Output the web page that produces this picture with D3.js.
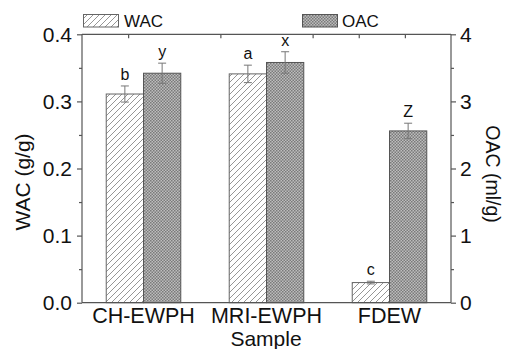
<!DOCTYPE html>
<html><head><meta charset="utf-8">
<script src="https://cdn.jsdelivr.net/npm/d3@7"></script>
<style>body{margin:0;background:#fff;} text{font-family:"Liberation Sans",Arial,sans-serif;fill:#111;}</style>
</head><body><svg id="c" width="505" height="349"></svg>
<script>
const categories = ["CH-EWPH", "MRI-EWPH", "FDEW"];
const wac = [0.311, 0.341, 0.030];
const wacErr = [0.012, 0.013, 0.002];
const wacLetters = ["b", "a", "c"];
const oac = [3.42, 3.58, 2.56];
const oacErr = [0.15, 0.16, 0.115];
const oacLetters = ["y", "x", "Z"];
const leftTicks = [0, 0.1, 0.2, 0.3, 0.4];
const rightTicks = [0, 1, 2, 3, 4];
const topTicks = [0.875, 1.625, 2.375, 2.75, 3.125];

const svg = d3.select("#c");
const L = 82, R = 451, T = 34.3, B = 302.7;
const x = d3.scaleLinear().domain([0.5, 3.5]).range([L, R]);
const yL = d3.scaleLinear().domain([0, 0.4]).range([B, T]);
const yR = d3.scaleLinear().domain([0, 4]).range([B, T]);
const bw = 0.303;

const defs = svg.append("defs");
const hatch = defs.append("pattern").attr("id", "hatch").attr("patternUnits", "userSpaceOnUse")
  .attr("width", 6).attr("height", 6);
hatch.append("rect").attr("width", 6).attr("height", 6).attr("fill", "#fff");
hatch.append("path").attr("d", "M-1,1 l2,-2 M0,6 l6,-6 M5,7 l2,-2").attr("stroke", "#8a8a8a").attr("stroke-width", 0.9);
const chk = defs.append("pattern").attr("id", "chk").attr("patternUnits", "userSpaceOnUse")
  .attr("width", 3).attr("height", 3);
chk.append("rect").attr("width", 3).attr("height", 3).attr("fill", "#bdbdbd");
chk.append("rect").attr("width", 1.5).attr("height", 1.5).attr("fill", "#7a7a7a");
chk.append("rect").attr("x", 1.5).attr("y", 1.5).attr("width", 1.5).attr("height", 1.5).attr("fill", "#7a7a7a");

// bars
const g = svg.append("g");
categories.forEach((c, i) => {
  g.append("rect").attr("x", x(i + 1 - bw)).attr("y", yL(wac[i]))
    .attr("width", x(i + 1) - x(i + 1 - bw)).attr("height", B - yL(wac[i]))
    .attr("fill", "url(#hatch)").attr("stroke", "#666").attr("stroke-width", 1);
  g.append("rect").attr("x", x(i + 1)).attr("y", yR(oac[i]))
    .attr("width", x(i + 1 + bw) - x(i + 1)).attr("height", B - yR(oac[i]))
    .attr("fill", "url(#chk)").attr("stroke", "#555").attr("stroke-width", 1);
});

// error bars and letters
function errBar(cx, yv, e, sc) {
  const y1 = sc(yv + e), y2 = sc(yv - e);
  g.append("line").attr("x1", cx).attr("x2", cx).attr("y1", y1).attr("y2", y2).attr("stroke", "#777").attr("stroke-width", 1);
  [y1, y2].forEach(yy => g.append("line").attr("x1", cx - 4).attr("x2", cx + 4).attr("y1", yy).attr("y2", yy).attr("stroke", "#777").attr("stroke-width", 1));
  return y1;
}
categories.forEach((c, i) => {
  const cw = x(i + 1 - bw / 2), co = x(i + 1 + bw / 2);
  const t1 = errBar(cw, wac[i], wacErr[i], yL);
  g.append("text").attr("x", cw).attr("y", t1 - 6).attr("text-anchor", "middle").attr("font-size", 16).text(wacLetters[i]);
  const t2 = errBar(co, oac[i], oacErr[i], yR);
  g.append("text").attr("x", co).attr("y", t2 - 6).attr("text-anchor", "middle").attr("font-size", 16).text(oacLetters[i]);
});

// axes frame
const ax = svg.append("g").attr("stroke", "#555").attr("stroke-width", 1.2);
ax.append("line").attr("x1", L).attr("x2", R).attr("y1", B).attr("y2", B);
ax.append("line").attr("x1", L).attr("x2", R).attr("y1", T).attr("y2", T);
ax.append("line").attr("x1", L).attr("x2", L).attr("y1", T).attr("y2", B);
ax.append("line").attr("x1", R).attr("x2", R).attr("y1", T).attr("y2", B);

// left axis
const la = svg.append("g").attr("transform", `translate(${L},0)`)
  .call(d3.axisLeft(yL).tickValues(leftTicks).tickFormat(d3.format(".1f")).tickSize(5).tickPadding(5));
la.append("g").call(d3.axisLeft(yL).tickValues([0.05, 0.15, 0.25, 0.35]).tickFormat("").tickSize(3));
// right axis
const ra = svg.append("g").attr("transform", `translate(${R},0)`)
  .call(d3.axisRight(yR).tickValues(rightTicks).tickFormat(d3.format("d")).tickSize(5).tickPadding(4));
ra.append("g").call(d3.axisRight(yR).tickValues([0.5, 1.5, 2.5, 3.5]).tickFormat("").tickSize(3));
// top minor ticks
const ta = svg.append("g").attr("transform", `translate(0,${T})`)
  .call(d3.axisBottom(x).tickValues(topTicks).tickFormat("").tickSize(4));
[la, ra, ta].forEach(a => {
  a.selectAll(".domain").remove();
  a.selectAll("line").attr("stroke", "#555").attr("stroke-width", 1.2);
  a.selectAll("text").attr("font-size", 21).attr("fill", "#111").style("font-family", "'Liberation Sans',Arial,sans-serif");
});

// category labels
svg.append("g").selectAll("text").data(categories).join("text")
  .attr("x", (d, i) => x(i + 1)).attr("y", 323).attr("text-anchor", "middle").attr("font-size", 21.5).text(d => d);
svg.append("text").attr("x", 266).attr("y", 346).attr("text-anchor", "middle").attr("font-size", 21).text("Sample");
svg.append("text").attr("transform", "translate(30,182) rotate(-90)").attr("text-anchor", "middle").attr("font-size", 21).text("WAC (g/g)");
svg.append("text").attr("transform", "translate(486,174) rotate(90)").attr("text-anchor", "middle").attr("font-size", 19.5).text("OAC (ml/g)");

// legend
const leg = svg.append("g");
leg.append("rect").attr("x", 83.5).attr("y", 14.5).attr("width", 35).attr("height", 12.5).attr("fill", "url(#hatch)").attr("stroke", "#666");
leg.append("text").attr("x", 124).attr("y", 27).attr("font-size", 17).text("WAC");
leg.append("rect").attr("x", 302.5).attr("y", 14.5).attr("width", 35).attr("height", 12.5).attr("fill", "url(#chk)").attr("stroke", "#555");
leg.append("text").attr("x", 342).attr("y", 27).attr("font-size", 17).text("OAC");
</script></body></html>
